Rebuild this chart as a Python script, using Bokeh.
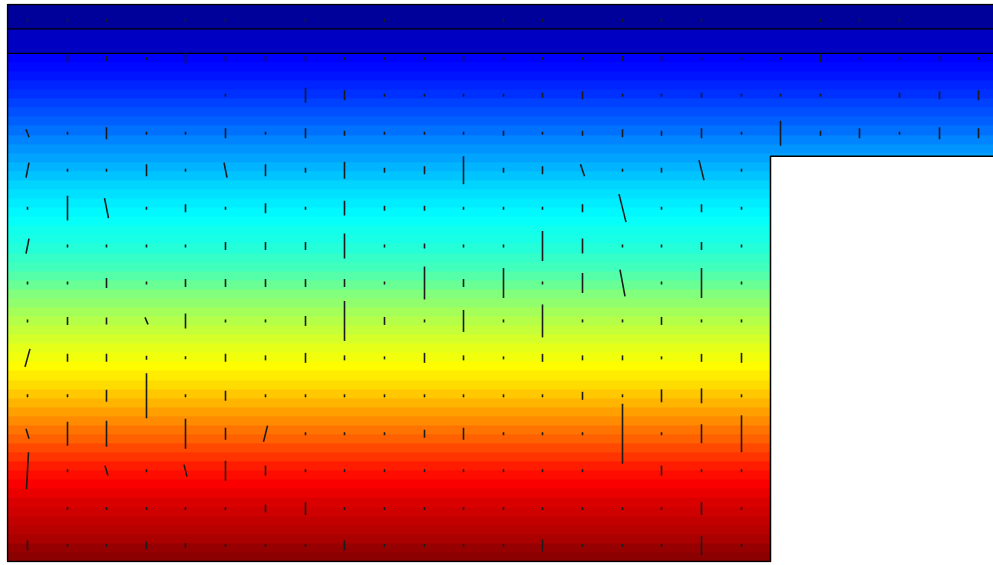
import numpy as np
from bokeh.plotting import figure
from bokeh.models import LinearColorMapper, Range1d
from bokeh.embed import file_html
from bokeh.resources import INLINE

# ---------------- data ----------------
DOMAIN_WIDTH = 1000          # model width (view shows the left part)
DOMAIN_DEPTH = 558
NOTCH_X = 763                # start of the step on the right
NOTCH_DEPTH = 152            # depth of the step
LAYER_EDGES = [0, 24.5, 49]  # two thin top layers
LAYER_VALUES = [0.03, 0.07]
GRAD_TOP = 49
# field value (0..1) read in 56 equal depth cells from GRAD_TOP down to DOMAIN_DEPTH
GRAD_VALUES = [
    0.125, 0.136, 0.148, 0.161, 0.175, 0.190, 0.206, 0.222, 0.238, 0.255,
    0.271, 0.287, 0.303, 0.318, 0.333, 0.346, 0.357, 0.368, 0.379, 0.391,
    0.401, 0.411, 0.426, 0.440, 0.458, 0.479, 0.502, 0.519, 0.536, 0.552,
    0.568, 0.583, 0.598, 0.613, 0.627, 0.643, 0.660, 0.679, 0.698, 0.718,
    0.738, 0.759, 0.781, 0.802, 0.823, 0.844, 0.863, 0.878, 0.894, 0.907,
    0.919, 0.931, 0.943, 0.956, 0.973, 0.985,
]

COL_X = [20, 60, 99, 139, 178, 218, 258, 298, 337, 377, 417, 456, 496, 535, 575,
         615, 654, 694, 734, 773, 813, 852, 892, 932, 971]
ROW_DEPTH = [16, 54, 91, 129, 166, 204, 242, 279, 317, 354, 392, 430, 467, 505, 542]

MARK_LEN = [
    [3, 3, 3, 0, 3, 3, 0, 3, 0, 3, 0, 0, 3, 3, 0, 3, 3, 3, 0, 0, 3, 3, 3, 0, 0],
    [0, 8, 5, 3, 10, 5, 5, 5, 3, 3, 3, 5, 3, 3, 3, 5, 5, 3, 3, 3, 8, 3, 3, 5, 3],
    [0, 0, 0, 0, 0, 3, 0, 15, 10, 3, 3, 3, 3, 5, 8, 3, 3, 5, 3, 3, 3, 0, 5, 8, 10],
    [8, 3, 12, 3, 3, 10, 3, 10, 5, 3, 3, 3, 5, 3, 5, 8, 5, 10, 3, 25, 5, 10, 3, 12, 10],
    [15, 3, 3, 12, 3, 15, 12, 5, 17, 5, 8, 28, 5, 8, 12, 3, 5, 20, 3],
    [3, 25, 20, 3, 8, 3, 10, 3, 15, 5, 5, 3, 3, 3, 8, 28, 3, 8, 3],
    [15, 3, 3, 3, 3, 8, 8, 8, 25, 3, 5, 3, 3, 30, 15, 3, 3, 8, 3],
    [3, 3, 10, 3, 8, 8, 8, 8, 8, 3, 33, 8, 30, 3, 20, 27, 3, 30, 3],
    [3, 8, 7, 7, 15, 3, 3, 10, 40, 8, 3, 22, 3, 33, 3, 3, 8, 3, 3],
    [18, 8, 8, 4, 3, 8, 5, 10, 5, 3, 10, 5, 3, 8, 5, 5, 3, 8, 10],
    [3, 3, 12, 45, 3, 10, 3, 3, 3, 3, 3, 3, 3, 3, 8, 3, 13, 15, 3],
    [10, 24, 26, 0, 30, 12, 16, 3, 3, 3, 8, 12, 3, 3, 3, 60, 3, 19, 37],
    [37, 3, 10, 3, 12, 20, 10, 3, 3, 3, 3, 3, 3, 3, 3, 0, 10, 3, 3],
    [0, 3, 3, 3, 3, 3, 8, 13, 3, 3, 3, 3, 3, 3, 3, 3, 3, 13, 3],
    [10, 3, 3, 8, 5, 3, 3, 3, 10, 3, 3, 3, 3, 12, 3, 3, 3, 19, 3],
]
MARK_TILT = [
    [0] * 25,
    [0] * 25,
    [0] * 25,
    [3] + [0] * 24,
    [-3, 0, 0, 0, 0, 3, 0, 0, 0, 0, 0, 0, 0, 0, 4, 0, 0, 5, 0],
    [0, 0, 4, 0, 0, 0, 0, 0, 0, 0, 0, 0, 0, 0, 0, 7, 0, 0, 0],
    [-3] + [0] * 18,
    [0] * 15 + [5, 0, 0, 0],
    [0, 0, 0, 3] + [0] * 15,
    [-5] + [0] * 18,
    [0] * 19,
    [3, 0, 0, 0, 0, 0, -4] + [0] * 12,
    [-2, 0, 3, 0, 3] + [0] * 14,
    [0] * 19,
    [0] * 19,
]

# ---------------- colour map (jet) ----------------
def jet_hex(v):
    r = min(max(1.5 - abs(4 * v - 3), 0), 1)
    g = min(max(1.5 - abs(4 * v - 2), 0), 1)
    b = min(max(1.5 - abs(4 * v - 1), 0), 1)
    return "#%02x%02x%02x" % (int(r * 255), int(g * 255), int(b * 255))

JET = [jet_hex(v) for v in np.linspace(0, 1, 256)]
mapper = LinearColorMapper(palette=JET, low=0, high=1)

# ---------------- figure ----------------
p = figure(width=993, height=565, output_backend="svg", toolbar_location=None,
           x_range=Range1d(-1, 986), y_range=Range1d(-559, 1),
           min_border_left=6, min_border_right=0, min_border_top=3, min_border_bottom=3,
           background_fill_color="white", border_fill_color="white")
p.axis.visible = False
p.grid.visible = False
p.outline_line_color = None

# top thin layers (row 0 of the image is at the bottom)
layer_img = np.array(LAYER_VALUES[::-1], dtype=float).reshape(-1, 1)
p.image(image=[layer_img], x=0, y=-LAYER_EDGES[-1], dw=DOMAIN_WIDTH,
        dh=LAYER_EDGES[-1] - LAYER_EDGES[0], color_mapper=mapper)

# main gradient
grad_img = np.array(GRAD_VALUES[::-1], dtype=float).reshape(-1, 1)
p.image(image=[grad_img], x=0, y=-DOMAIN_DEPTH, dw=DOMAIN_WIDTH,
        dh=DOMAIN_DEPTH - GRAD_TOP, color_mapper=mapper)

# step cut-out
p.quad(left=NOTCH_X, right=DOMAIN_WIDTH + 10, bottom=-DOMAIN_DEPTH - 10, top=-NOTCH_DEPTH,
       fill_color="white", line_color=None)

# layer boundaries
for d in LAYER_EDGES[1:]:
    p.line([0, DOMAIN_WIDTH], [-d, -d], line_color="black", line_width=1.2)

# domain outline
p.line([DOMAIN_WIDTH, 0, 0, NOTCH_X, NOTCH_X, DOMAIN_WIDTH],
       [0, 0, -DOMAIN_DEPTH, -DOMAIN_DEPTH, -NOTCH_DEPTH, -NOTCH_DEPTH],
       line_color="black", line_width=1.5)

# flow marks
x0s, y0s, x1s, y1s = [], [], [], []
for r, depth in enumerate(ROW_DEPTH):
    for c, length in enumerate(MARK_LEN[r]):
        if length <= 0:
            continue
        tilt = MARK_TILT[r][c] if c < len(MARK_TILT[r]) else 0
        x = COL_X[c]
        x0s.append(x - tilt / 2)
        x1s.append(x + tilt / 2)
        y0s.append(-(depth - length / 2))
        y1s.append(-(depth + length / 2))
p.segment(x0=x0s, y0=y0s, x1=x1s, y1=y1s, line_color="#1c1c1c", line_width=1.6)

open("out.html", "w").write(file_html(p, INLINE))
